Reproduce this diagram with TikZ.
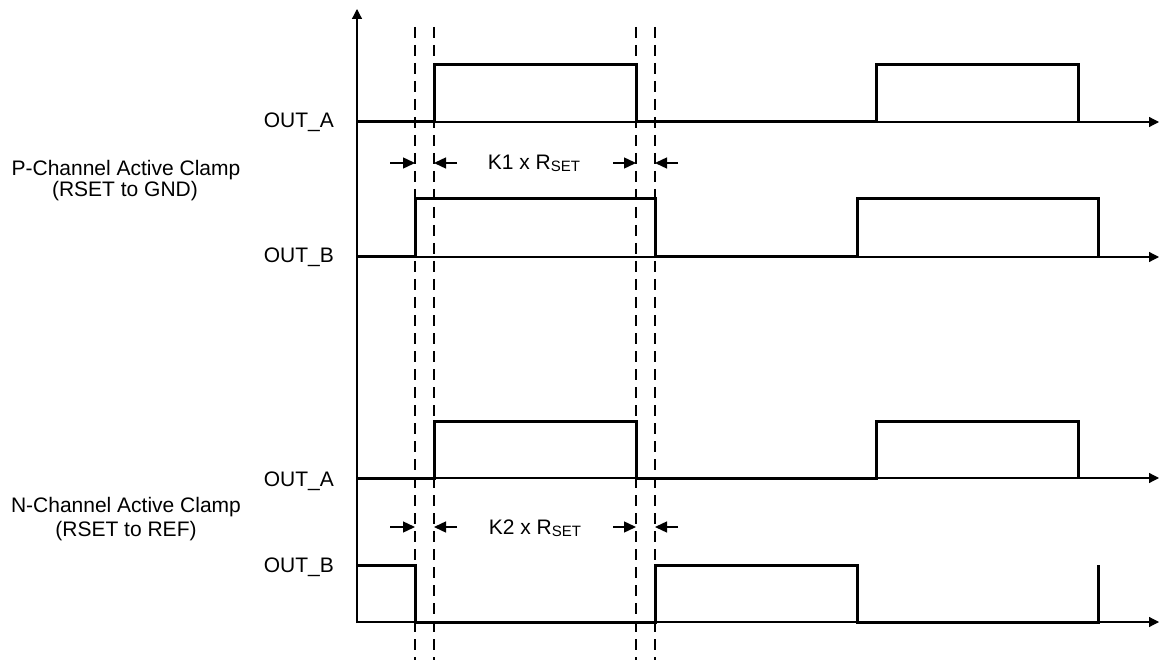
\documentclass[tikz,border=0pt]{standalone}
\usepackage{fontspec}
\setmainfont{Liberation Sans}
\usetikzlibrary{arrows.meta}
\newcommand{\subSET}{\raisebox{-2pt}{\fontsize{15}{16}\selectfont SET}}
\begin{document}
\begin{tikzpicture}[x=1pt,y=-1pt,
  axis/.style={line width=1.2pt,-{Triangle[length=10pt,width=10pt]}},
  wave/.style={line width=3pt, line join=miter},
  guide/.style={line width=1.3pt, dash pattern=on 11pt off 7pt},
  dim/.style={line width=1.4pt,-{Triangle[length=12pt,width=11pt]}},
  lbl/.style={font=\fontsize{21}{24}\selectfont, inner sep=0pt},
  sig/.style={lbl, anchor=base east},
  grp/.style={lbl, anchor=base}]
\useasboundingbox (0,0) rectangle (1159,660);

% axes
\coordinate (O) at (357,623);
\coordinate (Ytop) at (357,9);
\draw[axis] (O) -- (Ytop);
\foreach \n/\y in {a1/122,b1/257,a2/478,b2/622}{
  \coordinate (\n s) at (357,\y);
  \coordinate (\n e) at (1159,\y);
  \draw[axis] (\n s) -- (\n e);
}

% dashed guides
\foreach \n/\x in {g1/415,g2/434,g3/636,g4/655}{
  \coordinate (\n t) at (\x,27);
  \coordinate (\n b) at (\x,660);
  \draw[guide] (\n t) -- (\n b);
}

% waveforms
\draw[wave] (357,122) -- (434,122) -- (434,65) -- (636,65) -- (636,122) -- (876,122) -- (876,65) -- (1078,65) -- (1078,122);
\draw[wave] (357,257) -- (415,257) -- (415,199) -- (655,199) -- (655,257) -- (857,257) -- (857,199) -- (1098,199) -- (1098,257);
\draw[wave] (357,478) -- (434,478) -- (434,421) -- (636,421) -- (636,478) -- (876,478) -- (876,421) -- (1078,421) -- (1078,478);
\draw[wave] (357,565) -- (415,565) -- (415,622) -- (655,622) -- (655,565) -- (857,565) -- (857,622) -- (1098,622) -- (1098,565);

% dimension arrows
\foreach \r/\y in {p/163,n/527}{
  \coordinate (\r1a) at (390,\y); \coordinate (\r1b) at (415,\y);
  \coordinate (\r2a) at (457,\y); \coordinate (\r2b) at (434,\y);
  \coordinate (\r3a) at (613,\y); \coordinate (\r3b) at (636,\y);
  \coordinate (\r4a) at (678,\y); \coordinate (\r4b) at (655,\y);
  \draw[dim] (\r1a) -- (\r1b);
  \draw[dim] (\r2a) -- (\r2b);
  \draw[dim] (\r3a) -- (\r3b);
  \draw[dim] (\r4a) -- (\r4b);
}
\node[grp] (k1) at (534,170) {K1 x R\subSET};
\node[grp] (k2) at (535,534) {K2 x R\subSET};

% labels
\node[sig] (la1) at (334,128) {OUT\_A};
\node[sig] (lb1) at (334,263) {OUT\_B};
\node[sig] (la2) at (334,486) {OUT\_A};
\node[sig] (lb2) at (334,572) {OUT\_B};
\node[grp] (p1) at (126,176) {P-Channel Active Clamp};
\node[grp] (p2) at (125,197) {(RSET to GND)};
\node[grp] (n1) at (126,512) {N-Channel Active Clamp};
\node[grp] (n2) at (126,536) {(RSET to REF)};
\end{tikzpicture}
\end{document}
